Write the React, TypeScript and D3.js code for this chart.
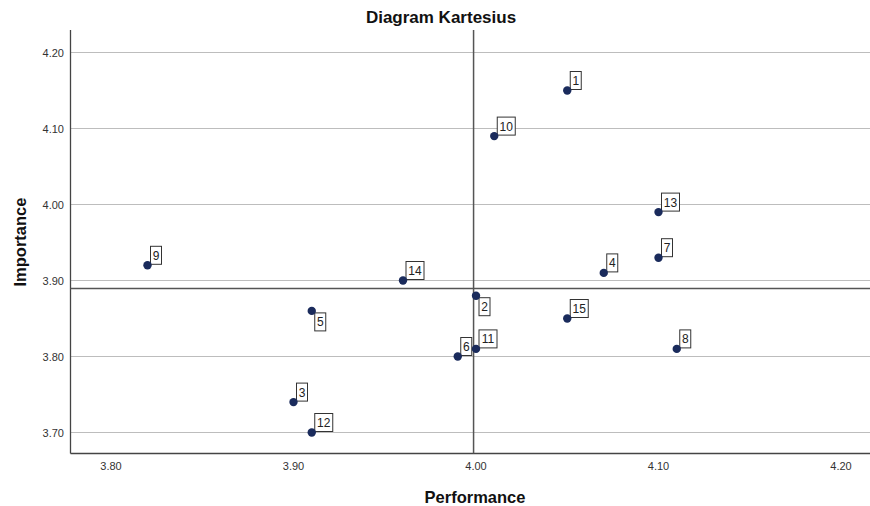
import * as d3 from "d3"

// Atribut: nomor, performance (x), importance (y)
const ids = [1, 2, 3, 4, 5, 6, 7, 8, 9, 10, 11, 12, 13, 14, 15]
const performance = [4.05, 4.00, 3.90, 4.07, 3.91, 3.99, 4.10, 4.11, 3.82, 4.01, 4.00, 3.91, 4.10, 3.96, 4.05]
const importance = [4.15, 3.88, 3.74, 3.91, 3.86, 3.80, 3.93, 3.81, 3.92, 4.09, 3.81, 3.70, 3.99, 3.90, 3.85]
const labelsBelow = [2, 5]
const xTicks = [3.8, 3.9, 4.0, 4.1, 4.2]
const yTicks = [3.7, 3.8, 3.9, 4.0, 4.1, 4.2]

const W = 870
const H = 506
const plot = { left: 70.5, right: 870, top: 30, bottom: 453.5 }
const font = "'Liberation Sans', Arial, sans-serif"

export default function App() {
    const x = d3.scaleLinear().domain([3.8, 4.2]).range([111, 841])
    const y = d3.scaleLinear().domain([3.7, 4.2]).range([432.5, 52.5])

    const meanX = d3.mean(performance) as number
    const meanY = d3.mean(importance) as number

    const pts = ids.map((id, i) => ({ id, px: x(performance[i]), py: y(importance[i]) }))

    return (
        <svg width={W} height={H} viewBox={`0 0 ${W} ${H}`}
            style={{ position: "absolute", left: 0, top: 0, background: "#fff", fontFamily: font }}>
            <text x={441} y={23} textAnchor="middle" fontSize={17} fontWeight="bold" fill="#111">Diagram Kartesius</text>

            {/* grid */}
            {yTicks.map(t => (
                <line key={t} x1={plot.left} x2={plot.right} y1={y(t)} y2={y(t)} stroke="#bdbdbd" strokeWidth={1} />
            ))}

            {/* axes */}
            <line x1={plot.left} x2={plot.left} y1={plot.top} y2={plot.bottom} stroke="#444" strokeWidth={1.3} />
            <line x1={plot.left} x2={plot.right} y1={plot.bottom} y2={plot.bottom} stroke="#444" strokeWidth={1.3} />

            {yTicks.map(t => (
                <text key={t} x={64} y={y(t) + 4} textAnchor="end" fontSize={11} fill="#333">{t.toFixed(2)}</text>
            ))}
            {xTicks.map(t => (
                <text key={t} x={x(t)} y={470} textAnchor="middle" fontSize={11} fill="#333">{t.toFixed(2)}</text>
            ))}

            <text x={475} y={503} textAnchor="middle" fontSize={16.5} fontWeight="bold" fill="#111">Performance</text>
            <text transform={`translate(26,${242}) rotate(-90)`} textAnchor="middle" fontSize={16.5} fontWeight="bold" fill="#111">Importance</text>

            {/* garis rata-rata */}
            <line x1={x(meanX)} x2={x(meanX)} y1={plot.top} y2={plot.bottom} stroke="#555" strokeWidth={1.5} />
            <line x1={plot.left} x2={plot.right} y1={y(meanY)} y2={y(meanY)} stroke="#555" strokeWidth={1.5} />

            {pts.map(p => {
                const label = String(p.id)
                const bw = label.length > 1 ? 18 : 11
                const bh = 18
                const below = labelsBelow.includes(p.id)
                const bx = p.px + 3
                const by = below ? p.py + 2 : p.py - 1 - bh
                const cy = below ? by : by + bh
                return (
                    <g key={p.id}>
                        <line x1={p.px} y1={p.py} x2={bx} y2={cy} stroke="#333" strokeWidth={1} />
                        <rect x={bx} y={by} width={bw} height={bh} fill="#fff" stroke="#333" strokeWidth={1} />
                        <text x={bx + bw / 2} y={by + 13.5} textAnchor="middle" fontSize={12} fill="#222">{label}</text>
                    </g>
                )
            })}
            {pts.map(p => (
                <circle key={p.id} cx={p.px} cy={p.py} r={4.2} fill="#1a2b5c" />
            ))}
        </svg>
    )
}
